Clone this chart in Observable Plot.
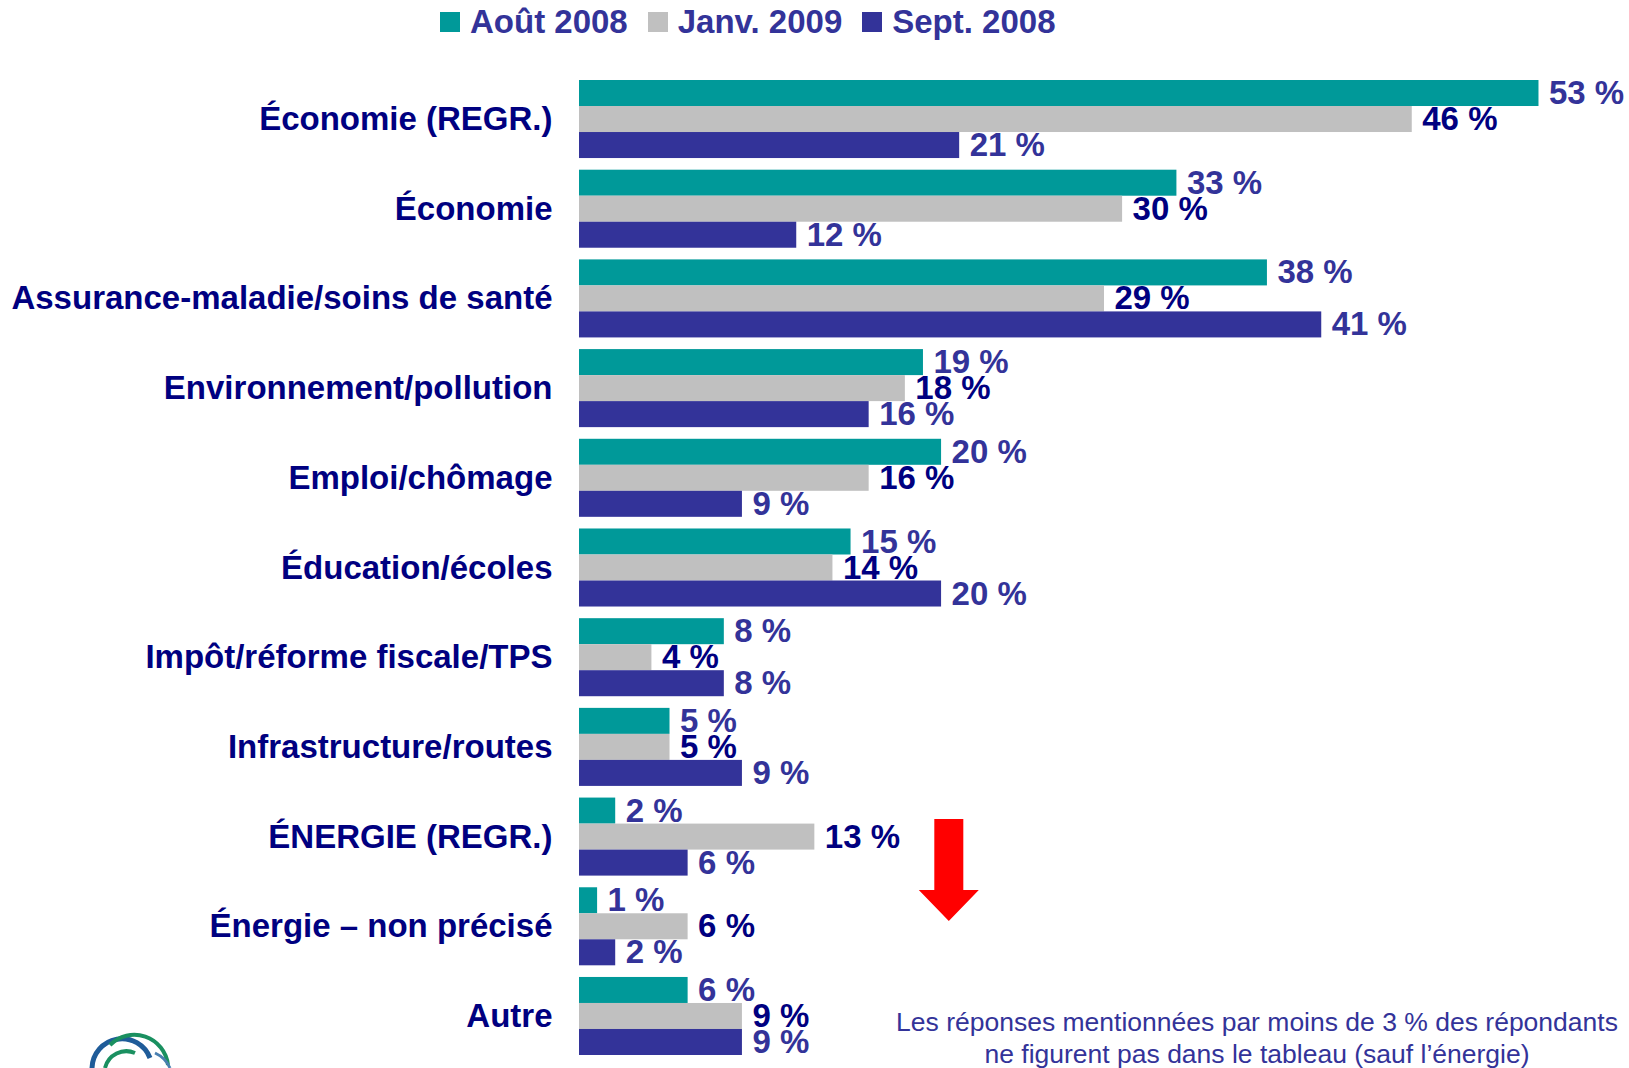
<!DOCTYPE html>
<html><head><meta charset="utf-8">
<script src="https://cdn.jsdelivr.net/npm/d3@7"></script>
<script src="https://cdn.jsdelivr.net/npm/@observablehq/plot@0.6"></script>
<style>
body{margin:0;background:#fff;font-family:"Liberation Sans",Arial,sans-serif;}
#wrap{position:relative;width:1629px;height:1068px;overflow:hidden;}
#chart{position:absolute;left:0;top:0;}
#legend{position:absolute;top:3px;left:440px;display:flex;align-items:center;font-weight:bold;font-size:33px;line-height:38px;color:#333399;}
#legend .it{display:flex;align-items:center;margin-right:20px;}
#legend .sw{width:20px;height:20px;margin-right:10px;}
#note{position:absolute;left:857px;top:1006px;width:800px;text-align:center;font-size:26.5px;line-height:32px;color:#333399;}
#logo{position:absolute;left:80px;top:1025px;}
</style></head>
<body>
<div id="wrap">
  <div id="chart"></div>
  <div id="legend"></div>
  <div id="note">Les réponses mentionnées par moins de 3 % des répondants<br>ne figurent pas dans le tableau (sauf l’énergie)</div>
  <svg id="logo" width="110" height="43" viewBox="0 0 110 43">
    <path d="M12,43 A30,30 0 0 1 70,33" fill="none" stroke="#1f5c99" stroke-width="5"/>
    <path d="M30,20 A34,34 0 0 1 88,40" fill="none" stroke="#1a9060" stroke-width="4"/>
    <path d="M25,43 A22,22 0 0 1 55,28" fill="none" stroke="#1a9060" stroke-width="4"/>
    <path d="M75,28 A30,30 0 0 1 90,43" fill="none" stroke="#4a7fb0" stroke-width="3"/>
  </svg>
</div>
<script>
const categories = ["Économie (REGR.)","Économie","Assurance-maladie/soins de santé","Environnement/pollution","Emploi/chômage","Éducation/écoles","Impôt/réforme fiscale/TPS","Infrastructure/routes","ÉNERGIE (REGR.)","Énergie – non précisé","Autre"];
const series = ["Août 2008","Janv. 2009","Sept. 2008"];
const aout2008 = [53,33,38,19,20,15,8,5,2,1,6];
const janv2009 = [46,30,29,18,16,14,4,5,13,6,9];
const sept2008 = [21,12,41,16,9,20,8,9,6,2,9];
const colors = ["#009999","#C0C0C0","#333399"];
const labelColors = ["#333399","#000080","#333399"];
const arrowNote = [{cat:"ÉNERGIE (REGR.)", ser:"Août 2008", x:20.4}];

const valuesBySeries = [aout2008, janv2009, sept2008];
const data = categories.flatMap((c,i)=>valuesBySeries.map((arr,j)=>({cat:c, ser:series[j], v:arr[i]})));

const blockArrow = {
  draw(context, l) {
    const hw = 14.5, aw = 30, ah = 31;
    context.moveTo(-hw, 0);
    context.lineTo(-hw, -(l-ah));
    context.lineTo(-aw, -(l-ah));
    context.lineTo(0, -l);
    context.lineTo(aw, -(l-ah));
    context.lineTo(hw, -(l-ah));
    context.lineTo(hw, 0);
    context.closePath();
  }
};

const chart = Plot.plot({
  width:1629, height:1068, marginLeft:579, marginRight:0, marginTop:80, marginBottom:13,
  style:{fontFamily:"Liberation Sans, Arial, sans-serif", background:"transparent", overflow:"visible"},
  x:{domain:[0,58], axis:null},
  y:{domain:series, axis:null, padding:0, round:false},
  fy:{domain:categories, paddingInner:0.13, paddingOuter:0, round:false, label:null},
  color:{domain:series, range:colors},
  marks:[
    Plot.barX(data,{fy:"cat", y:"ser", x:"v", fill:"ser"}),
    ...series.map((s,j)=>Plot.text(data.filter(d=>d.ser===s),{fy:"cat", y:"ser", x:"v", text:d=>`${d.v} %`, dx:10, textAnchor:"start", fill:labelColors[j], fontSize:33, fontWeight:"bold"})),
    Plot.axisFy({anchor:"left", tickSize:0, tickPadding:27, fontSize:33, fontWeight:"bold", fill:"#000080", label:null}),
    Plot.vector(arrowNote,{fy:"cat", y:"ser", x:"x", length:102, rotate:180, anchor:"start", shape:blockArrow, fill:"#FF0000", stroke:"none", dy:8})
  ]
});
document.getElementById("chart").appendChild(chart);

const legend = document.getElementById("legend");
series.forEach((s,j)=>{
  const it = document.createElement("div"); it.className="it";
  const sw = document.createElement("div"); sw.className="sw"; sw.style.background=colors[j];
  const tx = document.createElement("span"); tx.textContent=s;
  it.appendChild(sw); it.appendChild(tx); legend.appendChild(it);
});
</script>
</body></html>
